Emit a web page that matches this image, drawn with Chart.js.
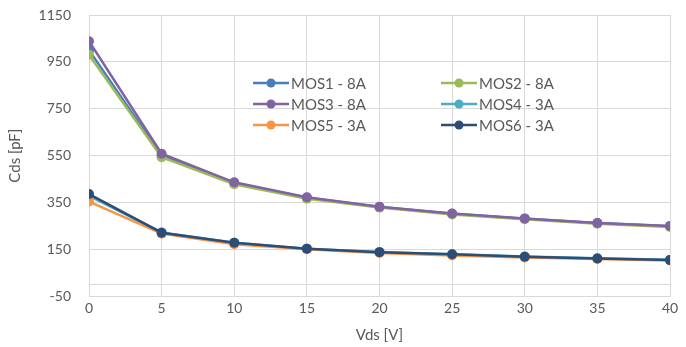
<!DOCTYPE html>
<html>
<head>
<meta charset="utf-8">
<script src="https://cdn.jsdelivr.net/npm/chart.js@4"></script>
<style>
	html, body { margin: 0; padding: 0; background: #fff; }
	#wrap { width: 686px; height: 347px; position: relative; }
</style>
</head>
<body>
<div id="wrap"><canvas id="cdsChart"></canvas></div>
<script>
// Cds vs Vds values
const vds = [0, 5, 10, 15, 20, 25, 30, 35, 40];
const yTicks = [-50, 150, 350, 550, 750, 950, 1150];
const seriesNames = ['MOS1 - 8A', 'MOS2 - 8A', 'MOS3 - 8A', 'MOS4 - 3A', 'MOS5 - 3A', 'MOS6 - 3A'];
const mos1 = [1000, 549, 433, 370, 331, 302, 281, 262, 248];
const mos2 = [980, 543, 428, 366, 328, 299, 278, 259, 245];
const mos3 = [1038, 558, 436, 372, 332, 303, 282, 262, 250];
const mos4 = [378, 222, 178, 153, 139, 129, 119, 112, 106];
const mos5 = [354, 217, 172, 150, 134, 124, 115, 109, 102];
const mos6 = [386, 221, 178, 153, 138, 129, 118, 111, 104];
const colors = ['#4a7ebb', '#9bbb59', '#8064a2', '#4bacc6', '#f79646', '#2c4d75'];

const seriesValues = [mos1, mos2, mos3, mos4, mos5, mos6];
const textColor = '#595959';
const gridColor = '#d9d9d9';
const fontFamily = 'Lato, "Open Sans", sans-serif';

// Excel style legend drawn inside the plot area, plus the zero line
const insideLegend = {
	id: 'insideLegend',
	beforeDatasetsDraw(chart) {
		const ctx = chart.ctx;
		const area = chart.chartArea;
		const y0 = chart.scales.y.getPixelForValue(0);
		ctx.save();
		ctx.strokeStyle = gridColor;
		ctx.lineWidth = 1;
		ctx.beginPath();
		ctx.moveTo(area.left, Math.round(y0) + 0.5);
		ctx.lineTo(area.right, Math.round(y0) + 0.5);
		ctx.stroke();
		ctx.restore();
	},
	afterDraw(chart) {
		const ctx = chart.ctx;
		const cols = [253, 441];
		const rows = [83, 104, 125];
		ctx.save();
		ctx.font = '15px ' + fontFamily;
		ctx.textBaseline = 'middle';
		seriesNames.forEach(function(name, i) {
			const x = cols[i % 2];
			const y = rows[Math.floor(i / 2)];
			ctx.strokeStyle = colors[i];
			ctx.lineWidth = 2.5;
			ctx.beginPath();
			ctx.moveTo(x, y);
			ctx.lineTo(x + 36, y);
			ctx.stroke();
			ctx.fillStyle = colors[i];
			ctx.beginPath();
			ctx.arc(x + 18, y, 4.5, 0, Math.PI * 2);
			ctx.fill();
			ctx.fillStyle = textColor;
			ctx.fillText(name, x + 38, y + 1);
		});
		ctx.restore();
	}
};

const datasets = seriesNames.map(function(name, i) {
	return {
		label: name,
		data: vds.map(function(v, j) { return { x: v, y: seriesValues[i][j] }; }),
		borderColor: colors[i],
		backgroundColor: colors[i],
		borderWidth: 2.5,
		pointRadius: 5,
		pointHoverRadius: 5,
		pointBorderWidth: 0,
		tension: 0,
		order: 6 - i
	};
});

new Chart(document.getElementById('cdsChart').getContext('2d'), {
	type: 'line',
	data: { datasets: datasets },
	options: {
		responsive: true,
		maintainAspectRatio: false,
		animation: false,
		layout: { padding: { top: 15, right: 16, bottom: 3, left: 0 } },
		plugins: {
			legend: { display: false },
			tooltip: { enabled: false }
		},
		scales: {
			x: {
				type: 'linear',
				min: 0,
				max: 40,
				ticks: { stepSize: 5, color: textColor, font: { family: fontFamily, size: 14 }, padding: 4 },
				grid: { color: gridColor, drawTicks: false },
				border: { color: gridColor },
				title: { display: true, text: 'Vds [V]', color: textColor, font: { family: fontFamily, size: 15 }, padding: { top: 5, bottom: 0 } }
			},
			y: {
				min: yTicks[0],
				max: yTicks[yTicks.length - 1],
				afterBuildTicks(scale) {
					scale.ticks = yTicks.map(function(v) { return { value: v }; });
				},
				afterFit(scale) {
					scale.width = 89;
					scale.paddingTop = 0;
					scale.paddingBottom = 0;
				},
				ticks: {
					color: textColor,
					font: { family: fontFamily, size: 14 },
					padding: 18,
					callback: function(value) { return String(value); }
				},
				grid: { color: gridColor, drawTicks: false },
				border: { color: gridColor },
				title: { display: true, text: 'Cds [pF]', color: textColor, font: { family: fontFamily, size: 15 }, padding: { top: 6, bottom: 6 } }
			}
		}
	},
	plugins: [insideLegend]
});
</script>
</body>
</html>
